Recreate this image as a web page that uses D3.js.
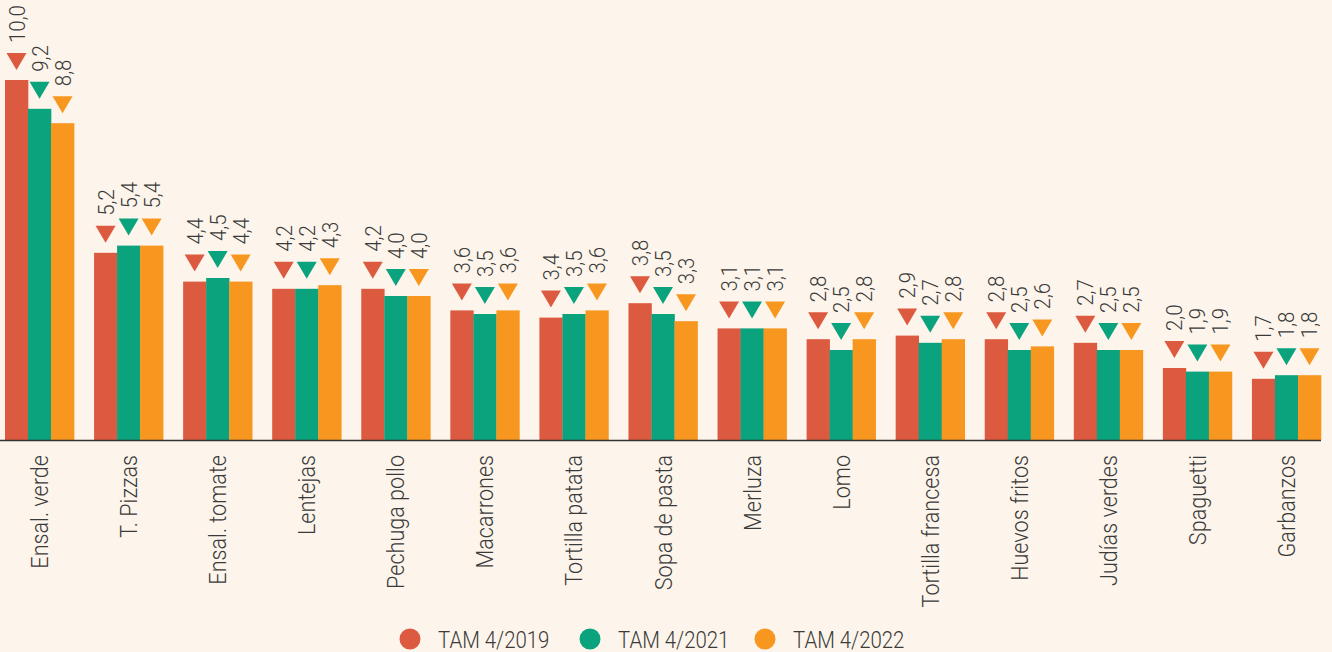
<!DOCTYPE html>
<html>
<head>
<meta charset="utf-8">
<script src="https://cdn.jsdelivr.net/npm/d3@7"></script>
<style>
  html, body { margin: 0; padding: 0; background: #fdf5eb; }
  svg { display: block; font-family: Roboto, "Noto Sans", sans-serif; }
</style>
</head>
<body>
<svg id="chart" width="1332" height="652"></svg>
<script>
// Platos más consumidos: comparativa de tres periodos TAM
const categories = ["Ensal. verde", "T. Pizzas", "Ensal. tomate", "Lentejas", "Pechuga pollo",
  "Macarrones", "Tortilla patata", "Sopa de pasta", "Merluza", "Lomo",
  "Tortilla francesa", "Huevos fritos", "Judías verdes", "Spaguetti", "Garbanzos"];
const seriesNames = ["TAM 4/2019", "TAM 4/2021", "TAM 4/2022"];
const tam2019 = [10.0, 5.2, 4.4, 4.2, 4.2, 3.6, 3.4, 3.8, 3.1, 2.8, 2.9, 2.8, 2.7, 2.0, 1.7];
const tam2021 = [9.2, 5.4, 4.5, 4.2, 4.0, 3.5, 3.5, 3.5, 3.1, 2.5, 2.7, 2.5, 2.5, 1.9, 1.8];
const tam2022 = [8.8, 5.4, 4.4, 4.3, 4.0, 3.6, 3.6, 3.3, 3.1, 2.8, 2.8, 2.6, 2.5, 1.9, 1.8];
const seriesValues = [tam2019, tam2021, tam2022];
const colors = ["#dc5a40", "#0ba37e", "#f7971f"];

const svg = d3.select("#chart");
const baseY = 440;
const textColor = "#3a3a3a";

const x0 = d3.scaleBand().domain(categories).range([5, 1321]).paddingInner(0.2246).paddingOuter(0);
const x1 = d3.scaleBand().domain(d3.range(3)).range([0, x0.bandwidth()]);
const y = d3.scaleLinear().domain([0, 10]).range([baseY, 80]);

const rows = categories.map((c, i) => ({ cat: c, vals: seriesValues.map(s => s[i]) }));

const groups = svg.append("g").selectAll("g").data(rows).join("g")
  .attr("transform", d => `translate(${x0(d.cat)},0)`);

const items = groups.selectAll("g.item")
  .data(d => d.vals.map((v, k) => ({ v, k })))
  .join("g").attr("class", "item");

items.append("rect")
  .attr("x", d => x1(d.k))
  .attr("y", d => y(d.v))
  .attr("width", x1.bandwidth() + 0.3)
  .attr("height", d => baseY - y(d.v))
  .attr("fill", d => colors[d.k]);

// downward marker above each bar
const triW = 20, triH = 17, triGap = 10;
items.append("path")
  .attr("d", d => {
    const cx = x1(d.k) + x1.bandwidth() / 2;
    const bot = y(d.v) - triGap;
    return `M${cx - triW / 2},${bot - triH}L${cx + triW / 2},${bot - triH}L${cx},${bot}Z`;
  })
  .attr("fill", d => colors[d.k]);

const fmt = v => d3.format(".1f")(v).replace(".", ",");
items.append("text")
  .attr("transform", d => {
    const cx = x1(d.k) + x1.bandwidth() / 2;
    const ty = y(d.v) - triGap - triH - 10;
    return `translate(${cx + 8},${ty}) rotate(-90) scale(0.93,1)`;
  })
  .attr("font-size", 22)
  .attr("font-weight", 300)
  .attr("fill", textColor)
  .text(d => fmt(d.v));

// baseline axis
const xAxis = d3.axisBottom(x0).tickSize(0).tickPadding(0);
const axisG = svg.append("g").attr("transform", `translate(0,${baseY})`).call(xAxis);
axisG.select(".domain").attr("d", "M0,0.5H1321").attr("stroke", "#333").attr("stroke-width", 1.6);
axisG.selectAll(".tick text")
  .attr("transform", "translate(8.5,15) rotate(-90) scale(0.9,1)")
  .attr("x", 0).attr("y", 0).attr("dy", null)
  .attr("text-anchor", "end")
  .attr("font-size", 24)
  .attr("font-weight", 300)
  .attr("font-family", "Roboto, sans-serif")
  .attr("fill", textColor);

// legend
const legendX = [410, 590, 765];
const legend = svg.append("g").selectAll("g").data(seriesNames).join("g")
  .attr("transform", (d, i) => `translate(${legendX[i]},639)`);
legend.append("circle").attr("r", 10.5).attr("fill", (d, i) => colors[i]);
legend.append("text")
  .attr("transform", "translate(28,8.5) scale(0.85,1)")
  .attr("font-size", 24)
  .attr("font-weight", 300)
  .attr("fill", textColor)
  .text(d => d);
</script>
</body>
</html>
